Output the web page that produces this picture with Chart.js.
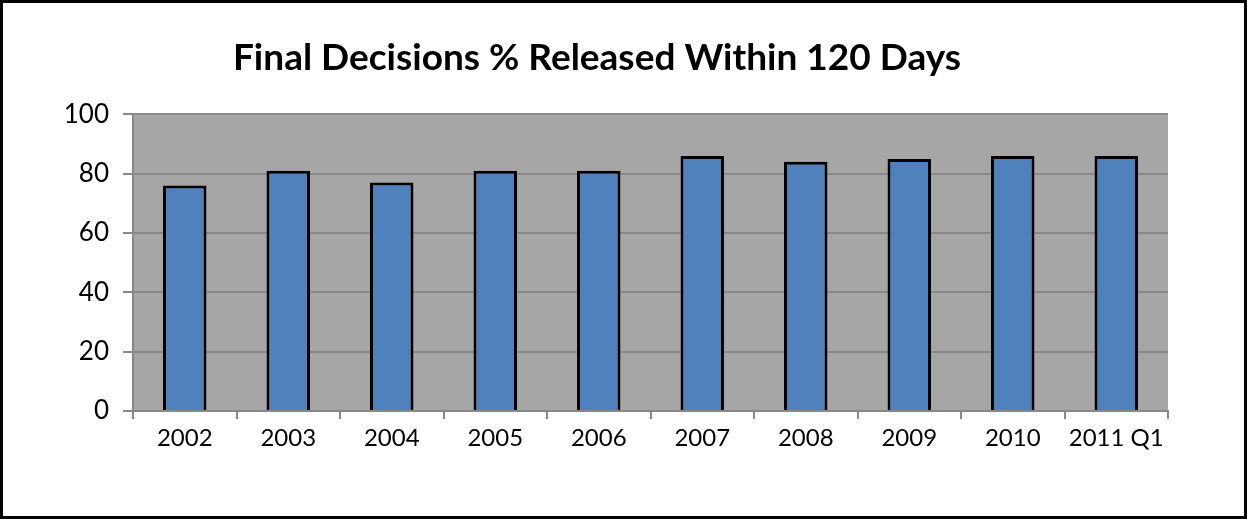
<!DOCTYPE html>
<html lang="en">
<head>
  <meta charset="UTF-8">
  <title>Final Decisions % Released Within 120 Days</title>
  <script src="https://cdn.jsdelivr.net/npm/chart.js"></script>
  <style>
    html, body { margin: 0; padding: 0; background: #fff; }
    #wrap { width: 1247px; height: 519px; position: relative; }
  </style>
</head>
<body>
  <div id="wrap"><canvas id="chart" width="1247" height="519"></canvas></div>
  <script>
    // data
    const years = ['2002', '2003', '2004', '2005', '2006', '2007', '2008', '2009', '2010', '2011 Q1'];
    const pctReleased = [76, 81, 77, 81, 81, 86, 84, 85, 86, 86];
    const yTicks = [0, 20, 40, 60, 80, 100];

    const font = 'Lato, "Open Sans", sans-serif';

    // grey plot area + outer frame
    const frame = {
      id: 'frame',
      beforeDraw(chart) {
        const {ctx, chartArea: a} = chart;
        ctx.save();
        ctx.fillStyle = '#a6a6a6';
        ctx.fillRect(a.left, a.top, a.right - a.left, a.bottom - a.top);
        ctx.restore();
      },
      afterDraw(chart) {
        const ctx = chart.ctx;
        ctx.save();
        ctx.strokeStyle = '#000';
        ctx.lineWidth = 3;
        ctx.strokeRect(1.5, 1.5, chart.width - 3, chart.height - 3);
        ctx.restore();
      }
    };

    new Chart(document.getElementById('chart'), {
      type: 'bar',
      data: {
        labels: years,
        datasets: [{
          data: pctReleased,
          backgroundColor: '#4f81bd',
          borderColor: '#000',
          borderWidth: 3,
          barPercentage: 0.42,
          categoryPercentage: 1
        }]
      },
      options: {
        responsive: false,
        animation: false,
        layout: { padding: { top: 16, right: 53, bottom: 0, left: 0 } },
        plugins: {
          legend: { display: false },
          tooltip: { enabled: false },
          title: {
            display: true,
            text: 'Final Decisions % Released Within 120 Days',
            color: '#000',
            font: { family: font, size: 37, weight: 'bold', lineHeight: 1.2 },
            padding: { top: 20, bottom: 34 }
          }
        },
        scales: {
          x: {
            offset: true,
            afterFit: s => { s.height = 108; },
            grid: {
              offset: true,
              drawOnChartArea: false,
              color: '#888',
              lineWidth: 2,
              tickLength: 8
            },
            border: { color: '#888', width: 2 },
            ticks: {
              color: '#000',
              padding: 5,
              autoSkip: false,
              maxRotation: 0,
              font: { family: font, size: 24 }
            }
          },
          y: {
            min: 0,
            max: 100,
            afterFit: s => { s.width = 133; },
            afterBuildTicks: s => { s.ticks = yTicks.map(v => ({ value: v })); },
            grid: {
              color: '#888',
              lineWidth: 2,
              tickLength: 10
            },
            border: { color: '#888', width: 2 },
            ticks: {
              color: '#000',
              padding: 14,
              font: { family: font, size: 26 }
            }
          },
          // empty strip on the right so the title sits where it does in the picture
          yRight: {
            position: 'right',
            min: 0,
            max: 100,
            afterFit: s => { s.width = 26; },
            grid: { display: false },
            border: { display: false },
            ticks: { display: false }
          }
        }
      },
      plugins: [frame]
    });
  </script>
</body>
</html>
